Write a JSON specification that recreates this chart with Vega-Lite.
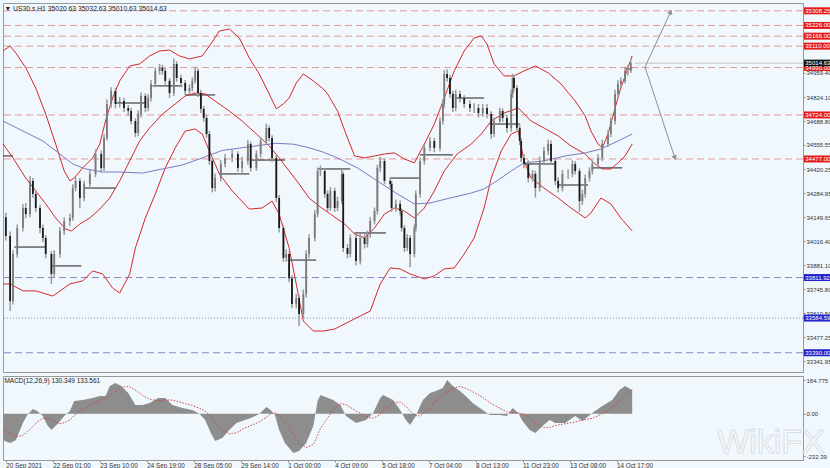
{
"$schema": "https://vega.github.io/schema/vega-lite/v6.json",
"background": "#f0f7fd",
"padding": {"top": 2, "left": 0, "right": 0, "bottom": 0},
"spacing": 2,
"config": {"view": {"stroke": "#9a9a9a", "strokeWidth": 1}, "font": "Liberation Sans",
  "axisRight": {"labelFontSize": 6, "labelColor": "#333333", "tickSize": 2, "tickColor": "#888888", "domainColor": "#999999", "labelPadding": 1, "grid": false, "labelFlush": false, "labelOverlap": false}},
"resolve": {"scale": {"x": "independent", "y": "independent"}},
"datasets": {
"bars": [
{"t":0,"o":34150,"h":34175,"l":34020,"c":34045},{"t":3,"o":34045,"h":34070,"l":33624,"c":33680},{"t":5,"o":33680,"h":33965,"l":33660,"c":33944},{"t":8,"o":33944,"h":34110,"l":33925,"c":34090},{"t":12,"o":34090,"h":34225,"l":34070,"c":34202},{"t":14,"o":34202,"h":34230,"l":34145,"c":34168},{"t":17,"o":34168,"h":34380,"l":34150,"c":34354},{"t":19,"o":34354,"h":34370,"l":34260,"c":34281},{"t":21,"o":34281,"h":34300,"l":34180,"c":34202},{"t":24,"o":34202,"h":34220,"l":34060,"c":34090},{"t":26,"o":34090,"h":34110,"l":34010,"c":34034},{"t":28,"o":34034,"h":34050,"l":33920,"c":33944},{"t":32,"o":33944,"h":33960,"l":33776,"c":33832},{"t":34,"o":33832,"h":33965,"l":33810,"c":33944},{"t":38,"o":33944,"h":34095,"l":33925,"c":34073},{"t":41,"o":34073,"h":34150,"l":34050,"c":34129},{"t":45,"o":34129,"h":34170,"l":34100,"c":34146},{"t":47,"o":34146,"h":34335,"l":34130,"c":34314},{"t":49,"o":34314,"h":34375,"l":34295,"c":34354},{"t":52,"o":34354,"h":34370,"l":34200,"c":34258},{"t":55,"o":34258,"h":34355,"l":34240,"c":34337},{"t":59,"o":34337,"h":34415,"l":34320,"c":34393},{"t":63,"o":34393,"h":34530,"l":34375,"c":34505},{"t":67,"o":34505,"h":34525,"l":34400,"c":34427},{"t":69,"o":34427,"h":34615,"l":34410,"c":34595},{"t":71,"o":34595,"h":34810,"l":34580,"c":34786},{"t":74,"o":34786,"h":34880,"l":34765,"c":34859},{"t":77,"o":34859,"h":34875,"l":34760,"c":34786},{"t":80,"o":34786,"h":34825,"l":34765,"c":34802},{"t":83,"o":34802,"h":34820,"l":34740,"c":34763},{"t":86,"o":34763,"h":34780,"l":34720,"c":34746},{"t":88,"o":34746,"h":34765,"l":34670,"c":34690},{"t":91,"o":34690,"h":34705,"l":34600,"c":34623},{"t":93,"o":34623,"h":34750,"l":34605,"c":34730},{"t":95,"o":34730,"h":34850,"l":34710,"c":34830},{"t":98,"o":34830,"h":34845,"l":34740,"c":34763},{"t":100,"o":34763,"h":34840,"l":34745,"c":34819},{"t":102,"o":34819,"h":34920,"l":34800,"c":34898},{"t":105,"o":34898,"h":34990,"l":34880,"c":34971},{"t":108,"o":34971,"h":35010,"l":34950,"c":34988},{"t":110,"o":34988,"h":35005,"l":34950,"c":34971},{"t":112,"o":34971,"h":34990,"l":34895,"c":34915},{"t":115,"o":34915,"h":34930,"l":34820,"c":34847},{"t":118,"o":34847,"h":35040,"l":34830,"c":35010},{"t":120,"o":35010,"h":35025,"l":34910,"c":34931},{"t":123,"o":34931,"h":34950,"l":34880,"c":34903},{"t":126,"o":34903,"h":34920,"l":34835,"c":34859},{"t":129,"o":34859,"h":34895,"l":34840,"c":34875},{"t":131,"o":34875,"h":34935,"l":34855,"c":34915},{"t":133,"o":34915,"h":34995,"l":34900,"c":34971},{"t":135,"o":34971,"h":34985,"l":34825,"c":34847},{"t":137,"o":34847,"h":34865,"l":34735,"c":34758},{"t":139,"o":34758,"h":34775,"l":34685,"c":34707},{"t":141,"o":34707,"h":34725,"l":34595,"c":34617},{"t":143,"o":34617,"h":34635,"l":34445,"c":34466},{"t":145,"o":34466,"h":34480,"l":34290,"c":34314},{"t":147,"o":34314,"h":34395,"l":34295,"c":34370},{"t":151,"o":34370,"h":34470,"l":34350,"c":34449},{"t":154,"o":34449,"h":34505,"l":34430,"c":34483},{"t":159,"o":34483,"h":34530,"l":34460,"c":34505},{"t":163,"o":34505,"h":34520,"l":34405,"c":34427},{"t":166,"o":34427,"h":34490,"l":34400,"c":34466},{"t":170,"o":34466,"h":34585,"l":34445,"c":34561},{"t":172,"o":34561,"h":34575,"l":34405,"c":34427},{"t":176,"o":34427,"h":34525,"l":34410,"c":34505},{"t":179,"o":34505,"h":34600,"l":34485,"c":34578},{"t":183,"o":34578,"h":34675,"l":34560,"c":34651},{"t":185,"o":34651,"h":34665,"l":34575,"c":34595},{"t":187,"o":34595,"h":34610,"l":34460,"c":34483},{"t":190,"o":34483,"h":34500,"l":34235,"c":34258},{"t":192,"o":34258,"h":34275,"l":34065,"c":34090},{"t":195,"o":34090,"h":34105,"l":33900,"c":33922},{"t":197,"o":33922,"h":33970,"l":33900,"c":33944},{"t":199,"o":33944,"h":33960,"l":33785,"c":33808},{"t":201,"o":33808,"h":33825,"l":33640,"c":33663},{"t":204,"o":33663,"h":33720,"l":33640,"c":33697},{"t":206,"o":33697,"h":33715,"l":33540,"c":33607},{"t":209,"o":33607,"h":33745,"l":33585,"c":33720},{"t":211,"o":33720,"h":33965,"l":33700,"c":33944},{"t":213,"o":33944,"h":34055,"l":33920,"c":34034},{"t":217,"o":34034,"h":34190,"l":34015,"c":34168},{"t":219,"o":34168,"h":34430,"l":34150,"c":34410},{"t":221,"o":34410,"h":34440,"l":34380,"c":34410},{"t":224,"o":34410,"h":34425,"l":34260,"c":34281},{"t":226,"o":34281,"h":34300,"l":34180,"c":34202},{"t":228,"o":34202,"h":34320,"l":34185,"c":34298},{"t":231,"o":34298,"h":34315,"l":34180,"c":34202},{"t":233,"o":34202,"h":34265,"l":34185,"c":34241},{"t":236,"o":34241,"h":34415,"l":34225,"c":34393},{"t":237,"o":34393,"h":34405,"l":33955,"c":33978},{"t":240,"o":33978,"h":34000,"l":33920,"c":33944},{"t":242,"o":33944,"h":34055,"l":33925,"c":34034},{"t":246,"o":34034,"h":34050,"l":33880,"c":33905},{"t":249,"o":33905,"h":34055,"l":33885,"c":34034},{"t":252,"o":34034,"h":34055,"l":33975,"c":34000},{"t":254,"o":34000,"h":34075,"l":33980,"c":34056},{"t":256,"o":34056,"h":34150,"l":34035,"c":34129},{"t":259,"o":34129,"h":34205,"l":34110,"c":34185},{"t":261,"o":34185,"h":34445,"l":34165,"c":34427},{"t":263,"o":34427,"h":34490,"l":34405,"c":34466},{"t":266,"o":34466,"h":34480,"l":34335,"c":34354},{"t":270,"o":34354,"h":34375,"l":34315,"c":34337},{"t":271,"o":34337,"h":34355,"l":34180,"c":34202},{"t":274,"o":34202,"h":34250,"l":34180,"c":34225},{"t":277,"o":34225,"h":34245,"l":34160,"c":34185},{"t":278,"o":34185,"h":34200,"l":34070,"c":34090},{"t":280,"o":34090,"h":34105,"l":33955,"c":33978},{"t":282,"o":33978,"h":34055,"l":33960,"c":34034},{"t":284,"o":34034,"h":34050,"l":33870,"c":33944},{"t":287,"o":33944,"h":34110,"l":33925,"c":34090},{"t":288,"o":34090,"h":34300,"l":34070,"c":34281},{"t":291,"o":34281,"h":34485,"l":34260,"c":34466},{"t":294,"o":34466,"h":34560,"l":34445,"c":34539},{"t":298,"o":34539,"h":34600,"l":34520,"c":34578},{"t":301,"o":34578,"h":34595,"l":34515,"c":34539},{"t":305,"o":34539,"h":34710,"l":34520,"c":34690},{"t":307,"o":34690,"h":34810,"l":34670,"c":34786},{"t":308,"o":34786,"h":34975,"l":34765,"c":34954},{"t":310,"o":34954,"h":34980,"l":34910,"c":34931},{"t":312,"o":34931,"h":34950,"l":34820,"c":34842},{"t":314,"o":34842,"h":34860,"l":34740,"c":34763},{"t":316,"o":34763,"h":34865,"l":34745,"c":34842},{"t":319,"o":34842,"h":34860,"l":34795,"c":34819},{"t":322,"o":34819,"h":34835,"l":34765,"c":34786},{"t":326,"o":34786,"h":34805,"l":34740,"c":34763},{"t":329,"o":34763,"h":34790,"l":34735,"c":34763},{"t":332,"o":34763,"h":34785,"l":34710,"c":34735},{"t":335,"o":34735,"h":34785,"l":34715,"c":34763},{"t":338,"o":34763,"h":34785,"l":34705,"c":34730},{"t":341,"o":34730,"h":34745,"l":34590,"c":34617},{"t":343,"o":34617,"h":34710,"l":34600,"c":34690},{"t":347,"o":34690,"h":34765,"l":34670,"c":34746},{"t":349,"o":34746,"h":34760,"l":34685,"c":34707},{"t":352,"o":34707,"h":34725,"l":34625,"c":34651},{"t":355,"o":34651,"h":34865,"l":34630,"c":34842},{"t":356,"o":34842,"h":34955,"l":34820,"c":34931},{"t":357,"o":34931,"h":34950,"l":34855,"c":34875},{"t":359,"o":34875,"h":34890,"l":34630,"c":34651},{"t":361,"o":34651,"h":34670,"l":34555,"c":34578},{"t":362,"o":34578,"h":34595,"l":34460,"c":34483},{"t":364,"o":34483,"h":34505,"l":34425,"c":34449},{"t":367,"o":34449,"h":34470,"l":34345,"c":34370},{"t":370,"o":34370,"h":34415,"l":34350,"c":34393},{"t":372,"o":34393,"h":34410,"l":34260,"c":34314},{"t":375,"o":34314,"h":34490,"l":34295,"c":34466},{"t":378,"o":34466,"h":34545,"l":34445,"c":34522},{"t":381,"o":34522,"h":34585,"l":34500,"c":34561},{"t":383,"o":34561,"h":34580,"l":34445,"c":34466},{"t":386,"o":34466,"h":34480,"l":34330,"c":34354},{"t":388,"o":34354,"h":34375,"l":34290,"c":34314},{"t":391,"o":34314,"h":34415,"l":34295,"c":34393},{"t":395,"o":34393,"h":34420,"l":34365,"c":34393},{"t":398,"o":34393,"h":34470,"l":34375,"c":34449},{"t":400,"o":34449,"h":34465,"l":34390,"c":34410},{"t":403,"o":34410,"h":34425,"l":34180,"c":34241},{"t":405,"o":34241,"h":34305,"l":34220,"c":34281},{"t":407,"o":34281,"h":34390,"l":34260,"c":34370},{"t":410,"o":34370,"h":34430,"l":34350,"c":34410},{"t":412,"o":34410,"h":34470,"l":34390,"c":34449},{"t":416,"o":34449,"h":34505,"l":34430,"c":34483},{"t":419,"o":34483,"h":34585,"l":34465,"c":34561},{"t":423,"o":34561,"h":34640,"l":34545,"c":34617},{"t":425,"o":34617,"h":34710,"l":34600,"c":34690},{"t":428,"o":34690,"h":34865,"l":34670,"c":34842},{"t":430,"o":34842,"h":34920,"l":34825,"c":34898},{"t":432,"o":34898,"h":34935,"l":34875,"c":34915},{"t":435,"o":34915,"h":34995,"l":34900,"c":34971},{"t":437,"o":34971,"h":35005,"l":34945,"c":34971},{"t":439,"o":34971,"h":35032.63,"l":34960,"c":35014.63}
],
"bands": [
{"s":"up","t":-2,"v":35083},{"s":"up","t":3,"v":35111},{"s":"up","t":7,"v":35072},{"s":"up","t":14,"v":34988},{"s":"up","t":21,"v":34875},{"s":"up","t":28,"v":34729},{"s":"up","t":35,"v":34561},{"s":"up","t":41,"v":34410},{"s":"up","t":45,"v":34354},{"s":"up","t":48,"v":34370},{"s":"up","t":54,"v":34427},{"s":"up","t":61,"v":34483},{"s":"up","t":66,"v":34561},{"s":"up","t":70,"v":34690},{"s":"up","t":75,"v":34819},{"s":"up","t":80,"v":34915},{"s":"up","t":87,"v":34999},{"s":"up","t":94,"v":35010},{"s":"up","t":101,"v":35055},{"s":"up","t":108,"v":35083},{"s":"up","t":115,"v":35088},{"s":"up","t":122,"v":35055},{"s":"up","t":129,"v":35038},{"s":"up","t":138,"v":35055},{"s":"up","t":144,"v":35122},{"s":"up","t":150,"v":35195},{"s":"up","t":157,"v":35206},{"s":"up","t":164,"v":35156},{"s":"up","t":171,"v":35044},{"s":"up","t":178,"v":34954},{"s":"up","t":185,"v":34842},{"s":"up","t":190,"v":34758},{"s":"up","t":195,"v":34786},{"s":"up","t":199,"v":34819},{"s":"up","t":204,"v":34903},{"s":"up","t":209,"v":34954},{"s":"up","t":216,"v":34915},{"s":"up","t":223,"v":34870},{"s":"up","t":226,"v":34842},{"s":"up","t":233,"v":34746},{"s":"up","t":240,"v":34595},{"s":"up","t":245,"v":34494},{"s":"up","t":252,"v":34483},{"s":"up","t":259,"v":34494},{"s":"up","t":266,"v":34505},{"s":"up","t":273,"v":34511},{"s":"up","t":280,"v":34477},{"s":"up","t":287,"v":34455},{"s":"up","t":294,"v":34561},{"s":"up","t":301,"v":34673},{"s":"up","t":308,"v":34819},{"s":"up","t":315,"v":34971},{"s":"up","t":322,"v":35083},{"s":"up","t":329,"v":35156},{"s":"up","t":334,"v":35167},{"s":"up","t":338,"v":35122},{"s":"up","t":343,"v":35010},{"s":"up","t":350,"v":34943},{"s":"up","t":357,"v":34943},{"s":"up","t":364,"v":34971},{"s":"up","t":372,"v":34999},{"s":"up","t":381,"v":34960},{"s":"up","t":390,"v":34898},{"s":"up","t":400,"v":34802},{"s":"up","t":407,"v":34718},{"s":"up","t":411,"v":34634},{"s":"up","t":416,"v":34561},{"s":"up","t":419,"v":34539},{"s":"up","t":423,"v":34617},{"s":"up","t":428,"v":34763},{"s":"up","t":432,"v":34875},{"s":"up","t":437,"v":34988},{"s":"up","t":440,"v":35055},
{"s":"mid","t":-2,"v":34561},{"s":"mid","t":5,"v":34483},{"s":"mid","t":14,"v":34370},{"s":"mid","t":21,"v":34298},{"s":"mid","t":28,"v":34225},{"s":"mid","t":35,"v":34146},{"s":"mid","t":42,"v":34084},{"s":"mid","t":46,"v":34073},{"s":"mid","t":52,"v":34112},{"s":"mid","t":59,"v":34146},{"s":"mid","t":66,"v":34196},{"s":"mid","t":73,"v":34258},{"s":"mid","t":80,"v":34354},{"s":"mid","t":87,"v":34466},{"s":"mid","t":94,"v":34578},{"s":"mid","t":101,"v":34651},{"s":"mid","t":110,"v":34729},{"s":"mid","t":119,"v":34786},{"s":"mid","t":126,"v":34830},{"s":"mid","t":133,"v":34847},{"s":"mid","t":140,"v":34842},{"s":"mid","t":147,"v":34802},{"s":"mid","t":157,"v":34746},{"s":"mid","t":166,"v":34690},{"s":"mid","t":176,"v":34617},{"s":"mid","t":185,"v":34550},{"s":"mid","t":192,"v":34483},{"s":"mid","t":199,"v":34410},{"s":"mid","t":206,"v":34337},{"s":"mid","t":213,"v":34258},{"s":"mid","t":220,"v":34213},{"s":"mid","t":228,"v":34168},{"s":"mid","t":238,"v":34112},{"s":"mid","t":245,"v":34056},{"s":"mid","t":252,"v":34034},{"s":"mid","t":259,"v":34090},{"s":"mid","t":266,"v":34168},{"s":"mid","t":273,"v":34202},{"s":"mid","t":280,"v":34185},{"s":"mid","t":287,"v":34146},{"s":"mid","t":294,"v":34202},{"s":"mid","t":301,"v":34298},{"s":"mid","t":308,"v":34410},{"s":"mid","t":317,"v":34505},{"s":"mid","t":327,"v":34561},{"s":"mid","t":334,"v":34617},{"s":"mid","t":341,"v":34690},{"s":"mid","t":350,"v":34735},{"s":"mid","t":360,"v":34763},{"s":"mid","t":369,"v":34690},{"s":"mid","t":378,"v":34651},{"s":"mid","t":388,"v":34606},{"s":"mid","t":397,"v":34550},{"s":"mid","t":407,"v":34505},{"s":"mid","t":414,"v":34449},{"s":"mid","t":419,"v":34421},{"s":"mid","t":425,"v":34421},{"s":"mid","t":430,"v":34455},{"s":"mid","t":435,"v":34494},{"s":"mid","t":440,"v":34561},
{"s":"low","t":-2,"v":33776},{"s":"low","t":3,"v":33776},{"s":"low","t":12,"v":33737},{"s":"low","t":21,"v":33737},{"s":"low","t":33,"v":33708},{"s":"low","t":45,"v":33776},{"s":"low","t":54,"v":33793},{"s":"low","t":61,"v":33849},{"s":"low","t":68,"v":33832},{"s":"low","t":75,"v":33753},{"s":"low","t":80,"v":33725},{"s":"low","t":87,"v":33832},{"s":"low","t":91,"v":33978},{"s":"low","t":98,"v":34146},{"s":"low","t":105,"v":34281},{"s":"low","t":112,"v":34427},{"s":"low","t":119,"v":34539},{"s":"low","t":126,"v":34634},{"s":"low","t":133,"v":34645},{"s":"low","t":138,"v":34617},{"s":"low","t":143,"v":34522},{"s":"low","t":150,"v":34393},{"s":"low","t":159,"v":34298},{"s":"low","t":171,"v":34196},{"s":"low","t":180,"v":34202},{"s":"low","t":187,"v":34241},{"s":"low","t":192,"v":34168},{"s":"low","t":199,"v":33978},{"s":"low","t":204,"v":33776},{"s":"low","t":209,"v":33568},{"s":"low","t":216,"v":33512},{"s":"low","t":223,"v":33512},{"s":"low","t":231,"v":33523},{"s":"low","t":242,"v":33568},{"s":"low","t":249,"v":33596},{"s":"low","t":256,"v":33624},{"s":"low","t":263,"v":33776},{"s":"low","t":270,"v":33866},{"s":"low","t":277,"v":33860},{"s":"low","t":284,"v":33832},{"s":"low","t":294,"v":33804},{"s":"low","t":301,"v":33821},{"s":"low","t":308,"v":33860},{"s":"low","t":315,"v":33866},{"s":"low","t":322,"v":33944},{"s":"low","t":329,"v":34034},{"s":"low","t":336,"v":34202},{"s":"low","t":341,"v":34370},{"s":"low","t":348,"v":34522},{"s":"low","t":355,"v":34617},{"s":"low","t":360,"v":34634},{"s":"low","t":364,"v":34466},{"s":"low","t":369,"v":34370},{"s":"low","t":378,"v":34314},{"s":"low","t":388,"v":34258},{"s":"low","t":397,"v":34202},{"s":"low","t":407,"v":34146},{"s":"low","t":411,"v":34174},{"s":"low","t":418,"v":34258},{"s":"low","t":425,"v":34225},{"s":"low","t":432,"v":34146},{"s":"low","t":440,"v":34073},
{"s":"ma","t":-2,"v":34690},{"s":"ma","t":12,"v":34634},{"s":"ma","t":26,"v":34578},{"s":"ma","t":38,"v":34505},{"s":"ma","t":47,"v":34449},{"s":"ma","t":56,"v":34421},{"s":"ma","t":68,"v":34404},{"s":"ma","t":80,"v":34404},{"s":"ma","t":96,"v":34398},{"s":"ma","t":110,"v":34421},{"s":"ma","t":124,"v":34443},{"s":"ma","t":138,"v":34483},{"s":"ma","t":152,"v":34525},{"s":"ma","t":166,"v":34540},{"s":"ma","t":180,"v":34555},{"s":"ma","t":190,"v":34565},{"s":"ma","t":202,"v":34560},{"s":"ma","t":213,"v":34540},{"s":"ma","t":223,"v":34515},{"s":"ma","t":233,"v":34483},{"s":"ma","t":247,"v":34427},{"s":"ma","t":261,"v":34354},{"s":"ma","t":275,"v":34281},{"s":"ma","t":287,"v":34225},{"s":"ma","t":298,"v":34230},{"s":"ma","t":312,"v":34258},{"s":"ma","t":327,"v":34286},{"s":"ma","t":336,"v":34309},{"s":"ma","t":345,"v":34354},{"s":"ma","t":355,"v":34410},{"s":"ma","t":364,"v":34455},{"s":"ma","t":378,"v":34466},{"s":"ma","t":393,"v":34494},{"s":"ma","t":407,"v":34511},{"s":"ma","t":418,"v":34533},{"s":"ma","t":430,"v":34578},{"s":"ma","t":440,"v":34617}
],
"days": [
{"a":-2,"b":5,"p":34494},{"a":6,"b":28,"p":33983},{"a":32,"b":53,"p":33877},{"a":55,"b":77,"p":34314},{"a":77,"b":98,"p":34791},{"a":103,"b":124,"p":34887},{"a":126,"b":147,"p":34836},{"a":150,"b":171,"p":34393},{"a":173,"b":196,"p":34471},{"a":198,"b":218,"p":33910},{"a":219,"b":242,"p":34421},{"a":245,"b":267,"p":34062},{"a":270,"b":291,"p":34370},{"a":291,"b":314,"p":34500},{"a":316,"b":336,"p":34819},{"a":340,"b":361,"p":34673},{"a":364,"b":386,"p":34449},{"a":388,"b":409,"p":34331},{"a":412,"b":433,"p":34427},{"a":435,"b":440,"p":34982}
],
"levels": [
{"p":35308.25,"k":"r"},{"p":35226.00,"k":"r"},{"p":35166.00,"k":"r"},{"p":35110.00,"k":"r"},{"p":34990.00,"k":"r"},{"p":34724.00,"k":"r"},{"p":34477.00,"k":"r"},{"p":33811.92,"k":"b"},{"p":33584.59,"k":"d"},{"p":33390.00,"k":"b"},{"p":35014.63,"k":"c"}
],
"arrows": [
{"a":449,"pa":34993,"b":467,"pb":35302,"dir":"up"},{"a":449,"pa":34993,"b":470,"pb":34483,"dir":"down"}
],
"macd": [
{"t":-2,"m":-145,"s":-90},{"t":3,"m":-161,"s":-110},{"t":7,"m":-146,"s":-125},{"t":12,"m":-51,"s":-120},{"t":15,"m":-7,"s":-100},{"t":19,"m":26,"s":-70},{"t":22,"m":15,"s":-45},{"t":26,"m":-13,"s":-25},{"t":29,"m":-62,"s":-25},{"t":32,"m":-89,"s":-35},{"t":37,"m":-51,"s":-55},{"t":41,"m":-13,"s":-50},{"t":45,"m":15,"s":-35},{"t":48,"m":70,"s":-10},{"t":54,"m":75,"s":25},{"t":61,"m":86,"s":55},{"t":66,"m":97,"s":75},{"t":70,"m":97,"s":85},{"t":73,"m":152,"s":100},{"t":77,"m":168,"s":125},{"t":81,"m":152,"s":145},{"t":86,"m":114,"s":150},{"t":91,"m":48,"s":130},{"t":96,"m":48,"s":100},{"t":101,"m":59,"s":80},{"t":107,"m":86,"s":70},{"t":112,"m":86,"s":75},{"t":117,"m":48,"s":75},{"t":124,"m":31,"s":60},{"t":131,"m":20,"s":45},{"t":136,"m":0,"s":30},{"t":140,"m":-35,"s":15},{"t":144,"m":-106,"s":-15},{"t":147,"m":-150,"s":-50},{"t":152,"m":-133,"s":-90},{"t":157,"m":-89,"s":-110},{"t":162,"m":-51,"s":-105},{"t":166,"m":-40,"s":-85},{"t":172,"m":-24,"s":-65},{"t":178,"m":-2,"s":-45},{"t":183,"m":37,"s":-20},{"t":186,"m":20,"s":0},{"t":189,"m":-7,"s":5},{"t":192,"m":-89,"s":-10},{"t":196,"m":-161,"s":-50},{"t":202,"m":-215,"s":-110},{"t":206,"m":-204,"s":-160},{"t":211,"m":-161,"s":-185},{"t":216,"m":-67,"s":-170},{"t":219,"m":70,"s":-120},{"t":221,"m":103,"s":-80},{"t":230,"m":75,"s":20},{"t":235,"m":48,"s":55},{"t":239,"m":-13,"s":50},{"t":246,"m":-51,"s":15},{"t":253,"m":-35,"s":-15},{"t":258,"m":4,"s":-25},{"t":263,"m":86,"s":-5},{"t":265,"m":103,"s":20},{"t":272,"m":75,"s":60},{"t":277,"m":20,"s":65},{"t":281,"m":-35,"s":40},{"t":284,"m":-62,"s":15},{"t":288,"m":-13,"s":-10},{"t":291,"m":42,"s":-12},{"t":293,"m":75,"s":0},{"t":298,"m":114,"s":35},{"t":302,"m":125,"s":70},{"t":307,"m":141,"s":100},{"t":310,"m":184.775,"s":120},{"t":314,"m":152,"s":140},{"t":319,"m":125,"s":150},{"t":323,"m":97,"s":140},{"t":328,"m":59,"s":120},{"t":335,"m":20,"s":90},{"t":340,"m":-7,"s":60},{"t":347,"m":-7,"s":30},{"t":352,"m":-13,"s":10},{"t":356,"m":31,"s":5},{"t":360,"m":4,"s":5},{"t":363,"m":-40,"s":0},{"t":368,"m":-89,"s":-20},{"t":372,"m":-106,"s":-50},{"t":377,"m":-67,"s":-75},{"t":382,"m":-35,"s":-75},{"t":386,"m":-51,"s":-65},{"t":393,"m":-51,"s":-55},{"t":400,"m":-13,"s":-45},{"t":405,"m":-40,"s":-35},{"t":412,"m":4,"s":-25},{"t":419,"m":42,"s":0},{"t":426,"m":75,"s":35},{"t":431,"m":130,"s":70},{"t":435,"m":152,"s":100},{"t":440,"m":130.349,"s":133.561}
]
},
"vconcat": [
{
"width": 800, "height": 369,
"encoding": {
  "x": {"type": "quantitative", "scale": {"domain": [-2, 560], "nice": false, "zero": false}, "axis": null},
  "y": {"type": "quantitative", "scale": {"domain": [33282, 35352], "nice": false, "zero": false},
    "axis": {"orient": "right", "values": [34959.40, 34824.10, 34688.80, 34555.55, 34420.25, 34284.95, 34149.65, 34016.40, 33881.10, 33745.80, 33610.50, 33477.25, 33341.95], "format": ".2f", "title": null}}
},
"layer": [
{"data": {"name": "levels"}, "transform": [{"filter": "datum.k == 'r'"}],
 "mark": {"type": "rule", "color": "#e39a9a", "strokeDash": [7, 4], "strokeWidth": 1},
 "encoding": {"y": {"field": "p"}}},
{"data": {"name": "levels"}, "transform": [{"filter": "datum.k == 'b'"}],
 "mark": {"type": "rule", "color": "#8a8ac2", "strokeDash": [7, 4], "strokeWidth": 1},
 "encoding": {"y": {"field": "p"}}},
{"data": {"name": "levels"}, "transform": [{"filter": "datum.k == 'd'"}],
 "mark": {"type": "rule", "color": "#8a8ac2", "strokeDash": [1, 2], "strokeWidth": 1},
 "encoding": {"y": {"field": "p"}}},
{"data": {"values": [{"p": 35014.63, "a": 442, "b": 560}]},
 "mark": {"type": "rule", "color": "#c4c4c4", "strokeWidth": 1},
 "encoding": {"x": {"field": "a"}, "x2": {"field": "b"}, "y": {"field": "p"}}},
{"data": {"name": "days"},
 "mark": {"type": "rule", "color": "#1e1e1e", "strokeWidth": 1},
 "encoding": {"x": {"field": "a"}, "x2": {"field": "b"}, "y": {"field": "p"}}},
{"data": {"name": "bands"},
 "mark": {"type": "line", "strokeWidth": 1},
 "encoding": {"x": {"field": "t"}, "y": {"field": "v"},
   "color": {"field": "s", "type": "nominal", "scale": {"domain": ["up", "mid", "low", "ma"], "range": ["#d42a2a", "#d42a2a", "#d42a2a", "#7b7bbf"]}, "legend": null}}},
{"data": {"name": "bars"},
 "mark": {"type": "rule", "color": "#9a9a9a", "strokeWidth": 1.5},
 "encoding": {"x": {"field": "t"}, "y": {"field": "l"}, "y2": {"field": "h"}}},
{"data": {"name": "bars"},
 "mark": {"type": "rule", "strokeWidth": 1.8},
 "encoding": {"x": {"field": "t"}, "y": {"field": "o"}, "y2": {"field": "c"},
   "color": {"condition": {"test": "datum.c < datum.o", "value": "#1a1a1a"}, "value": "#7a7a7a"}}},
{"data": {"name": "arrows"},
 "mark": {"type": "rule", "color": "#8f8f8f", "strokeWidth": 1},
 "encoding": {"x": {"field": "a"}, "x2": {"field": "b"}, "y": {"field": "pa"}, "y2": {"field": "pb"}}},
{"data": {"name": "arrows"}, "transform": [{"filter": "datum.dir == 'up'"}],
 "mark": {"type": "point", "shape": "triangle-up", "angle": 25, "size": 30, "filled": true, "color": "#8f8f8f", "opacity": 1},
 "encoding": {"x": {"field": "b"}, "y": {"field": "pb"}}},
{"data": {"name": "arrows"}, "transform": [{"filter": "datum.dir == 'down'"}],
 "mark": {"type": "point", "shape": "triangle-down", "angle": 342, "size": 30, "filled": true, "color": "#8f8f8f", "opacity": 1},
 "encoding": {"x": {"field": "b"}, "y": {"field": "pb"}}},
{"data": {"name": "levels"},
 "mark": {"type": "point", "shape": "M-1,-0.25L1,-0.25L1,0.25L-1,0.25Z", "size": 784, "filled": true, "opacity": 1, "strokeWidth": 0},
 "encoding": {"x": {"datum": 570.5}, "y": {"field": "p"},
   "color": {"condition": [{"test": "datum.k == 'r'", "value": "#e31b1b"}, {"test": "datum.k == 'c'", "value": "#111111"}], "value": "#2222c8"}}},
{"data": {"name": "levels"},
 "mark": {"type": "text", "align": "left", "baseline": "middle", "fontSize": 6, "color": "#ffffff"},
 "encoding": {"x": {"datum": 561.6}, "y": {"field": "p"}, "text": {"field": "p", "type": "quantitative", "format": ".2f"}}},
{"data": {"values": [{"label": "▼ US30.s,H1  35020.63 35032.63 35010.63 35014.63", "a": -1, "p": 35318}]},
 "mark": {"type": "text", "align": "left", "baseline": "middle", "fontSize": 6.8, "color": "#222222"},
 "encoding": {"x": {"field": "a"}, "y": {"field": "p"}, "text": {"field": "label"}}}
]
},
{
"width": 800, "height": 84,
"encoding": {
  "x": {"type": "quantitative", "scale": {"domain": [-2, 560], "nice": false, "zero": false},
    "axis": {"values": [0, 33, 66, 99, 132, 165, 198, 231, 264, 297, 330, 363, 396, 429], "labelExpr": "['20 Sep 2021','22 Sep 01:00','23 Sep 10:00','24 Sep 19:00','28 Sep 05:00','29 Sep 14:00','1 Oct 00:00','4 Oct 09:00','5 Oct 18:00','7 Oct 04:00','8 Oct 13:00','11 Oct 23:00','13 Oct 08:00','14 Oct 17:00'][round(datum.value/33)]", "labelAlign": "left", "labelFontSize": 6.3, "labelColor": "#333333", "tickSize": 2, "tickColor": "#888888", "domainColor": "#999999", "labelPadding": 0, "grid": false, "title": null, "labelFlush": false, "labelOverlap": false}},
  "y": {"type": "quantitative", "scale": {"domain": [-254, 207], "nice": false, "zero": false},
    "axis": {"orient": "right", "values": [184.775, 0, -232.39], "labelExpr": "datum.value == 0 ? '0.00' : (datum.value > 0 ? '184.775' : '-232.39')", "title": null}}
},
"layer": [
{"data": {"name": "macd"},
 "mark": {"type": "area", "color": "#8d8d8d", "interpolate": "linear", "opacity": 1},
 "encoding": {"x": {"field": "t"}, "y": {"field": "m"}, "y2": {"datum": 0}}},
{"data": {"name": "macd"},
 "mark": {"type": "line", "color": "#c84c4c", "strokeDash": [1.5, 1.5], "strokeWidth": 1},
 "encoding": {"x": {"field": "t"}, "y": {"field": "s"}}},
{"data": {"values": [{"label": "MACD(12,26,9) 130.349 133.561", "a": -1, "v": 178}]},
 "mark": {"type": "text", "align": "left", "baseline": "middle", "fontSize": 6.5, "color": "#222222"},
 "encoding": {"x": {"field": "a"}, "y": {"field": "v"}, "text": {"field": "label"}}},
{"data": {"values": [{"label": "WikiFX", "a": 537.5, "v": -216}]},
 "mark": {"type": "text", "align": "center", "baseline": "alphabetic", "fontSize": 34, "fill": "#f7fafd", "stroke": "#d9dee4", "strokeWidth": 1},
 "encoding": {"x": {"field": "a"}, "y": {"field": "v"}, "text": {"field": "label"}}}
]
}
]
}
